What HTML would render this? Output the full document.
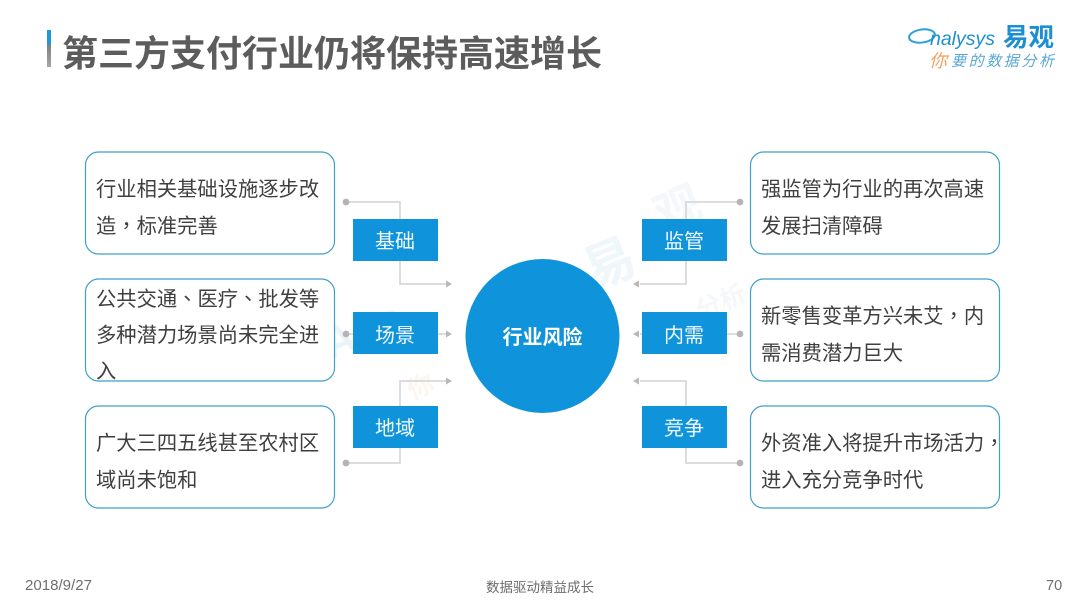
<!DOCTYPE html>
<html lang="zh">
<head>
<meta charset="utf-8">
<title>第三方支付行业仍将保持高速增长</title>
<style>
html,body{margin:0;padding:0;background:#fff}
svg{display:block}
text{font-family:"Liberation Sans","Noto Sans CJK SC",sans-serif}
.b{font-size:20.3px;fill:#3f3f3f}
.p{font-family:"Noto Sans CJK TC",sans-serif}
.l{font-size:20px;fill:#f2f9fd;text-anchor:middle}
.c{fill:#fff;stroke:#3f9fc9;stroke-width:1.2}
.k{fill:#0f94dc}
.w{fill:none;stroke:#d2d2d6;stroke-width:1.5}
.d{fill:#b5b5b8}
.a{fill:#b8b8bb}
</style>
</head>
<body>
<svg width="1080" height="608" viewBox="0 0 1080 608" xmlns="http://www.w3.org/2000/svg">
<defs>
<linearGradient id="g" x1="0" y1="0" x2="0" y2="1">
<stop offset="0" stop-color="#1b9ad9"/><stop offset=".38" stop-color="#1b9ad9"/>
<stop offset=".4" stop-color="#7f7f7f"/><stop offset="1" stop-color="#a5a5a5"/>
</linearGradient>
</defs>
<rect width="1080" height="608" fill="#fff"/>

<!-- watermark -->
<g font-weight="bold">
<text x="592" y="290" font-size="52" transform="rotate(-22 592 290)" style="fill:#f0f7fb">易</text>
<text x="662" y="232" font-size="46" transform="rotate(-22 662 232)" style="fill:#f4f8fb">观</text>
<text x="330" y="360" font-size="44" transform="rotate(-22 330 360)" style="fill:#eaf4f9">Ana</text>
<text x="412" y="400" font-size="26" transform="rotate(-22 412 400)" style="fill:#fdf6ef">你</text>
<text x="700" y="320" font-size="26" transform="rotate(-22 700 320)" style="fill:#f5f8fa">分析</text>
</g>

<!-- title -->
<rect x="47" y="30" width="4" height="37" fill="url(#g)"/>
<text x="62" y="66" font-size="36" font-weight="bold" fill="#5c5c5c">第三方支付行业仍将保持高速增长</text>

<!-- logo -->
<ellipse cx="922" cy="36" rx="13" ry="6.5" fill="none" stroke="#2e9fd8" stroke-width="2" transform="rotate(-8 922 36)"/>
<text x="930" y="45" font-size="19" font-style="italic" fill="#1f8fd0" textLength="65" lengthAdjust="spacingAndGlyphs">nalysys</text>
<text x="1003" y="46" font-size="25.5" font-weight="bold" fill="#1c8fd3">易观</text>
<text x="929" y="67" font-size="18" font-style="italic" fill="#f0a060">你</text>
<text x="951" y="66" font-size="15" font-style="italic" fill="#5aa7d8" textLength="103" lengthAdjust="spacing">要的数据分析</text>

<!-- cards left -->
<rect class="c" x="85.5" y="152" width="249" height="102" rx="13"/>
<rect class="c" x="85.5" y="279" width="249" height="102" rx="13"/>
<rect class="c" x="85.5" y="406" width="249" height="102" rx="13"/>
<!-- cards right -->
<rect class="c" x="750.5" y="152" width="249" height="102" rx="13"/>
<rect class="c" x="750.5" y="279" width="249" height="102" rx="13"/>
<rect class="c" x="750.5" y="406" width="249" height="102" rx="13"/>

<!-- connectors left -->
<path class="w" d="M346 202H400V284H446"/>
<path class="w" d="M346 334H353M438 334H446"/>
<path class="w" d="M346 463H400V381H446"/>
<!-- connectors right -->
<path class="w" d="M740 202H686V284H640"/>
<path class="w" d="M740 334H727M642 334H640"/>
<path class="w" d="M740 463H686V381H640"/>
<g class="d">
<circle cx="346" cy="202" r="3.4"/><circle cx="346" cy="334" r="3.4"/><circle cx="346" cy="463" r="3.4"/>
<circle cx="740" cy="202" r="3.4"/><circle cx="740" cy="334" r="3.4"/><circle cx="740" cy="463" r="3.4"/>
</g>
<g class="a">
<path d="M446 280.5L452 284L446 287.5Z"/><path d="M446 330.5L452 334L446 337.5Z"/><path d="M446 377.5L452 381L446 384.5Z"/>
<path d="M639 280.5L633 284L639 287.5Z"/><path d="M639 330.5L633 334L639 337.5Z"/><path d="M639 377.5L633 381L639 384.5Z"/>
</g>

<!-- label boxes -->
<rect class="k" x="353" y="219" width="85" height="42"/>
<rect class="k" x="353" y="312" width="85" height="42"/>
<rect class="k" x="353" y="406" width="85" height="42"/>
<rect class="k" x="642" y="219" width="85" height="42"/>
<rect class="k" x="642" y="312" width="85" height="42"/>
<rect class="k" x="642" y="406" width="85" height="42"/>
<text class="l" x="395" y="248">基础</text>
<text class="l" x="395" y="342">场景</text>
<text class="l" x="395" y="435">地域</text>
<text class="l" x="684" y="248">监管</text>
<text class="l" x="684" y="342">内需</text>
<text class="l" x="684" y="435">竞争</text>

<!-- center -->
<circle cx="542.5" cy="336" r="77" fill="#0f94dc"/>
<text x="542.5" y="344" font-size="20" font-weight="bold" fill="#fff" text-anchor="middle">行业风险</text>

<!-- body text -->
<text class="b" x="96" y="196">行业相关基础设施逐步改</text>
<text class="b" x="96" y="233">造<tspan class="p" lang="zh-TW">，</tspan>标准完善</text>
<text class="b" x="96" y="306">公共交通<tspan class="p" lang="zh-TW">、</tspan>医疗<tspan class="p" lang="zh-TW">、</tspan>批发等</text>
<text class="b" x="96" y="342">多种潜力场景尚未完全进</text>
<text class="b" x="96" y="378">入</text>
<text class="b" x="96" y="450">广大三四五线甚至农村区</text>
<text class="b" x="96" y="487">域尚未饱和</text>
<text class="b" x="761" y="196">强监管为行业的再次高速</text>
<text class="b" x="761" y="233">发展扫清障碍</text>
<text class="b" x="761" y="323">新零售变革方兴未艾<tspan class="p" lang="zh-TW">，</tspan>内</text>
<text class="b" x="761" y="360">需消费潜力巨大</text>
<text class="b" x="761" y="450">外资准入将提升市场活力<tspan class="p" lang="zh-TW">，</tspan></text>
<text class="b" x="761" y="487">进入充分竞争时代</text>

<!-- footer -->
<text x="25" y="590" font-size="14.5" fill="#6e6e6e" textLength="67" lengthAdjust="spacingAndGlyphs">2018/9/27</text>
<text x="540" y="592" font-size="13.5" fill="#6e6e6e" text-anchor="middle">数据驱动精益成长</text>
<text x="1046" y="590" font-size="14.5" fill="#6e6e6e">70</text>
</svg>
</body>
</html>
